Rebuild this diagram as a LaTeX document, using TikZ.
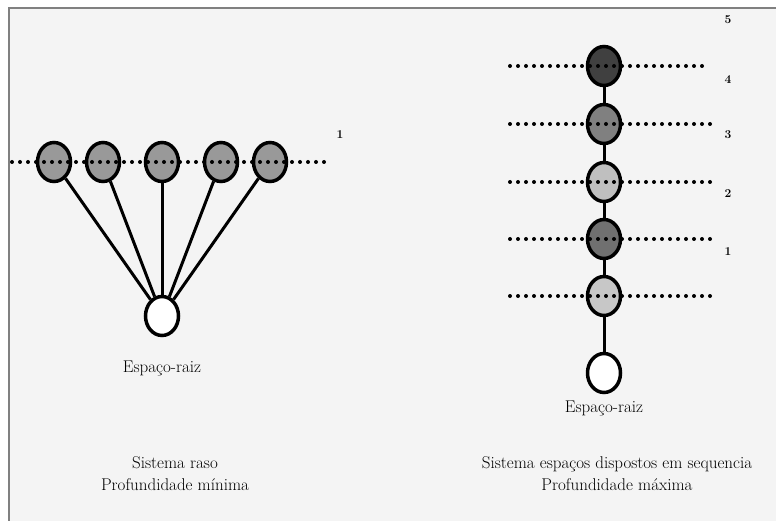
\documentclass[tikz,border=0pt]{standalone}
\usepackage{fontspec}
\usetikzlibrary{shapes.geometric}
\definecolor{paper}{HTML}{F4F4F4}
\tikzset{
  space/.style={draw, ellipse, line width=3.5pt, minimum width=33pt, minimum height=39pt, inner sep=0pt},
  link/.style={line width=3pt},
  level/.style={line width=4pt, line cap=round, dash pattern=on 0pt off 8pt},
  caption/.style={font=\fontsize{17}{22}\selectfont, align=center},
  num/.style={font=\fontsize{12}{14}\selectfont\bfseries}
}

\begin{document}
\begin{tikzpicture}[x=1pt,y=-1pt]
  \useasboundingbox (0,0) rectangle (776,521);
  \fill[paper] (9,8) rectangle (776,521);
  \draw[gray, line width=1.5pt] (9,521) -- (9,8) -- (776,8);

  % sistema raso
  \node[space, fill=black!40] (l1) at (54,162) {};
  \node[space, fill=black!40] (l2) at (103,162) {};
  \node[space, fill=black!40] (l3) at (162,162) {};
  \node[space, fill=black!40] (l4) at (221,162) {};
  \node[space, fill=black!40] (l5) at (270,162) {};
  \node[space, fill=white] (lroot) at (162,316) {};
  \draw[link] (l1) -- (lroot);
  \draw[link] (l2) -- (lroot);
  \draw[link] (l3) -- (lroot);
  \draw[link] (l4) -- (lroot);
  \draw[link] (l5) -- (lroot);
  \coordinate (la) at (12,162);
  \coordinate (lb) at (325,162);
  \draw[level] (la) -- (lb);
  \node[num] (ln1) at (340,135) {1};
  \node[caption] (lname) at (162,368) {Espaço-raiz};
  \node[caption] (lcap) at (175,474) {Sistema raso\\Profundidade mínima};

  % sistema em sequencia
  \node[space, fill=black!75] (s1) at (604,66) {};
  \node[space, fill=black!50] (s2) at (604,124) {};
  \node[space, fill=black!25] (s3) at (604,182) {};
  \node[space, fill=black!56] (s4) at (604,239) {};
  \node[space, fill=black!22] (s5) at (604,296) {};
  \node[space, fill=white] (rroot) at (604,373) {};
  \draw[link] (s1) -- (s2);
  \draw[link] (s2) -- (s3);
  \draw[link] (s3) -- (s4);
  \draw[link] (s4) -- (s5);
  \draw[link] (s5) -- (rroot);
  \draw[level] (510,66) -- (702,66);
  \draw[level] (510,124) -- (710,124);
  \draw[level] (510,182) -- (710,182);
  \draw[level] (510,239) -- (710,239);
  \draw[level] (510,296) -- (710,296);
  \node[num] (rn5) at (728,20) {5};
  \node[num] (rn4) at (728,80) {4};
  \node[num] (rn3) at (728,135) {3};
  \node[num] (rn2) at (728,194) {2};
  \node[num] (rn1) at (728,252) {1};
  \node[caption] (rname) at (604,408) {Espaço-raiz};
  \node[caption] (rcap) at (617,474) {Sistema espaços dispostos em sequencia\\Profundidade máxima};
\end{tikzpicture}
\end{document}
